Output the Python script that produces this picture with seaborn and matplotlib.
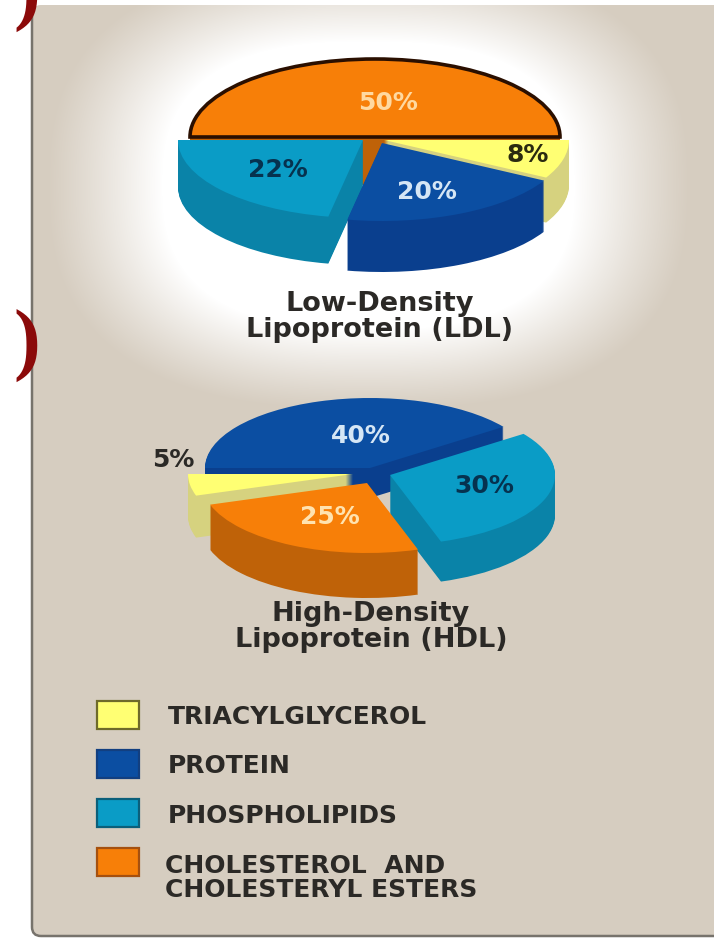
import numpy as np
import seaborn as sns
import matplotlib
matplotlib.use('Agg')
import matplotlib.pyplot as plt
from matplotlib.patches import FancyBboxPatch, Rectangle

W, H = 714, 947

# data
ldl_parts = ['chol', 'phos', 'prot', 'tri']
ldl_values = [50, 22, 20, 8]
hdl_parts = ['prot', 'tri', 'chol', 'phos']
hdl_values = [40, 5, 25, 30]
legend_keys = ['tri', 'prot', 'phos', 'chol']
legend_names = ['TRIACYLGLYCEROL', 'PROTEIN', 'PHOSPHOLIPIDS', 'CHOLESTEROL  AND\nCHOLESTERYL ESTERS']

sns.set_theme(style='white')
plt.rcParams['font.family'] = ['DejaVu Sans']

top_col = {'tri': '#FFFF73', 'prot': '#0B4EA2', 'phos': '#0A9CC6', 'chol': '#F77F08'}
side_col = {'tri': '#D6D27F', 'prot': '#0A3F8E', 'phos': '#0A83A8', 'chol': '#BF6208'}
edge_col = {'tri': '#6E6A2A', 'prot': '#123F80', 'phos': '#0B5F7A', 'chol': '#A5500F'}
panel_col = '#D6CDC0'
ink = '#2B2926'

fig = plt.figure(figsize=(W / 100, H / 100), dpi=100, facecolor='white')

# pixel axes for background
bg = fig.add_axes([0, 0, 1, 1], zorder=0)
bg.set_xlim(0, W)
bg.set_ylim(H, 0)
bg.axis('off')
panel = FancyBboxPatch((32, 5), 720, 931, boxstyle='round,pad=0,rounding_size=9',
                       fc=panel_col, ec='none')
bg.add_patch(panel)
# border only shows left and bottom, the top runs off the canvas
bg.add_patch(FancyBboxPatch((32, -20), 720, 956, boxstyle='round,pad=0,rounding_size=9',
                            fc='none', ec='#77736C', lw=1.8, zorder=3))
yy, xx = np.mgrid[0:H, 0:W]
r = (np.abs((xx - 368) / 322) ** 2.6 + np.abs((yy - 185) / 225) ** 2.6) ** (1 / 2.6)
glow = np.ones((H, W, 4))
glow[..., 3] = np.clip((1 - r) / 0.36, 0, 1) ** 1.1
im = bg.imshow(glow, extent=(0, W, H, 0), aspect='auto', zorder=1)
im.set_clip_path(panel)
bg.set_xlim(0, W)
bg.set_ylim(H, 0)


def draw_pie(values, parts, startangle, cx, cy, rx, ry, shift, depth, order, outline=None):
    ax = fig.add_axes([(cx - 2 * rx) / W, 1 - (cy + 2 * ry) / H, 4 * rx / W, 4 * ry / H], zorder=1)
    for i, part in enumerate(parts):
        dx, dy = shift[part]
        n = int(depth[part])
        for k in list(range(n, 0, -1)) + [0]:
            cols = [top_col[part] if k == 0 else side_col[part]] * len(values)
            wedges, _ = ax.pie(values, startangle=startangle, colors=cols, labeldistance=None,
                               center=(dx / rx, -(dy + k) / ry), radius=1,
                               wedgeprops={'linewidth': 0})
            for j, w in enumerate(wedges):
                if j != i:
                    w.remove()
                else:
                    w.set_zorder(order[part] * 2 + (1 if k == 0 else 0))
                    if k == 0 and outline == part:
                        w.set_edgecolor('#2A0F00')
                        w.set_linewidth(2.6)
    ax.set_aspect('auto')
    ax.set_xlim(-2, 2)
    ax.set_ylim(-2, 2)
    ax.axis('off')
    return ax


draw_pie(ldl_values, ldl_parts, 0, 375, 137, 185, 78,
         shift={'chol': (0, 0), 'phos': (-12, 3), 'prot': (7, 6), 'tri': (9, 3)},
         depth={'chol': 48, 'phos': 47, 'prot': 51, 'tri': 45},
         order={'chol': 0, 'tri': 1, 'phos': 2, 'prot': 3}, outline='chol')
draw_pie(hdl_values, hdl_parts, 36, 370, 468, 165, 70,
         shift={'prot': (0, 0), 'tri': (-17, 6), 'chol': (-3, 15), 'phos': (20, 7)},
         depth={'prot': 30, 'tri': 42, 'chol': 45, 'phos': 40},
         order={'prot': 0, 'tri': 1, 'phos': 2, 'chol': 3})

# text + legend on top
fg = fig.add_axes([0, 0, 1, 1], zorder=2)
fg.set_xlim(0, W)
fg.set_ylim(H, 0)
fg.axis('off')
fg.patch.set_alpha(0)

pct_font = dict(ha='center', va='center', fontsize=18, fontweight='bold')
fg.text(388, 103, f'{ldl_values[0]}%', color='#FFD9A0', **pct_font)
fg.text(278, 170, f'{ldl_values[1]}%', color='#06324F', **pct_font)
fg.text(427, 192, f'{ldl_values[2]}%', color='#D5E6F5', **pct_font)
fg.text(528, 155, f'{ldl_values[3]}%', color='#2A2A10', **pct_font)
fg.text(361, 436, f'{hdl_values[0]}%', color='#D5E6F5', **pct_font)
fg.text(173, 460, f'{hdl_values[1]}%', color='#2B2926', **pct_font)
fg.text(330, 517, f'{hdl_values[2]}%', color='#FFE3B0', **pct_font)
fg.text(484, 486, f'{hdl_values[3]}%', color='#06324F', **pct_font)

fg.text(380, 317, 'Low-Density\nLipoprotein (LDL)', ha='center', va='center', fontsize=19.5,
        fontweight='bold', color=ink, linespacing=1.0)
fg.text(371, 627, 'High-Density\nLipoprotein (HDL)', ha='center', va='center', fontsize=19.5,
        fontweight='bold', color=ink, linespacing=1.0)

swatch_y = [701, 750, 799, 848]
label_pos = [(168, 717), (168, 766), (168, 816), (165, 878)]
for key, name, y, (tx, ty) in zip(legend_keys, legend_names, swatch_y, label_pos):
    fg.add_patch(Rectangle((97, y), 42, 28, fc=top_col[key], ec=edge_col[key], lw=1.6))
    fg.text(tx, ty, name, ha='left', va='center', fontsize=18, fontweight='bold',
            color=ink, linespacing=1.0)

# slide text behind the panel, the top one runs off the canvas like the original
for y in (16, 366):
    fg.text(40, y, ')', ha='right', va='baseline', fontsize=58, fontweight='bold',
            family='Liberation Serif', color='#8B0A0A', clip_on=True)

fig.savefig('out.png', dpi=100, facecolor='white')
